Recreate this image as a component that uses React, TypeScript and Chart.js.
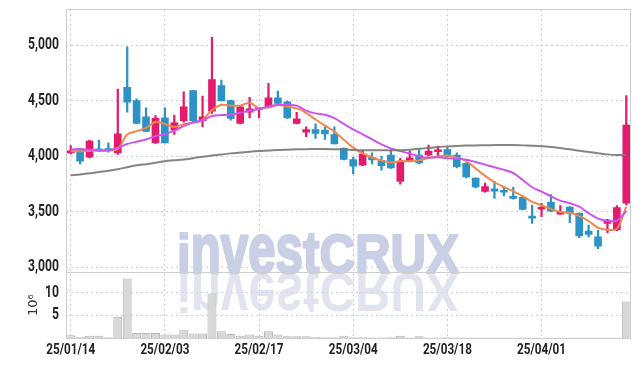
import React, { useEffect, useRef } from 'react';
import { Chart, registerables } from 'chart.js';
Chart.register(...registerables);

const dates = [
  '25/01/14','25/01/15','25/01/16','25/01/17','25/01/20','25/01/21','25/01/22','25/01/23','25/01/24','25/01/31',
  '25/02/03','25/02/04','25/02/05','25/02/06','25/02/07','25/02/10','25/02/11','25/02/12','25/02/13','25/02/14',
  '25/02/17','25/02/18','25/02/19','25/02/20','25/02/21','25/02/24','25/02/25','25/02/26','25/02/27','25/02/28',
  '25/03/04','25/03/05','25/03/06','25/03/07','25/03/10','25/03/11','25/03/12','25/03/13','25/03/14','25/03/17',
  '25/03/18','25/03/19','25/03/20','25/03/21','25/03/24','25/03/25','25/03/26','25/03/27','25/03/28','25/03/31',
  '25/04/01','25/04/02','25/04/03','25/04/04','25/04/07','25/04/08','25/04/09','25/04/10','25/04/11','25/04/14',
];

const opens = [
  4030, 4065, 3990, 4060, 4060, 4030, 4620, 4500, 4355, 4120,
  4345, 4235, 4320, 4590, 4320, 4405, 4635, 4500, 4295, 4395,
  4420, 4440, 4525, 4490, 4295, 4215, 4240, 4235, 4195, 4070,
  3970, 3918, 3990, 3960, 4010, 3773, 3955, 4010, 4010, 4040,
  4060, 4010, 3935, 3803, 3682, 3706, 3690, 3630, 3630, 3455,
  3522, 3585, 3478, 3542, 3485, 3325, 3273, 3395, 3335, 3576,
];
const highs = [
  4095, 4070, 4145, 4145, 4120, 4605, 4985, 4515, 4435, 4365,
  4435, 4370, 4580, 4590, 4540, 5070, 4685, 4505, 4450, 4530,
  4440, 4655, 4585, 4495, 4395, 4265, 4290, 4260, 4265, 4075,
  3990, 4055, 4030, 4000, 4055, 3980, 4045, 4060, 4100, 4090,
  4080, 4030, 3940, 3805, 3758, 3773, 3727, 3720, 3635, 3560,
  3575, 3655, 3555, 3545, 3490, 3380, 3333, 3430, 3555, 4545,
];
const lows = [
  4020, 3930, 3985, 4040, 4035, 4015, 4395, 4290, 4220, 4115,
  4120, 4195, 4305, 4310, 4265, 4385, 4495, 4325, 4290, 4345,
  4345, 4435, 4460, 4340, 4290, 4175, 4160, 4150, 4110, 3965,
  3840, 3915, 3930, 3873, 3890, 3748, 3955, 3930, 4000, 4000,
  3995, 3895, 3803, 3715, 3675, 3620, 3642, 3612, 3515, 3395,
  3455, 3500, 3475, 3400, 3265, 3273, 3167, 3312, 3330, 3560,
];
const closes = [
  4045, 3955, 4135, 4048, 4050, 4200, 4485, 4295, 4222, 4340,
  4120, 4300, 4445, 4320, 4355, 4690, 4500, 4340, 4445, 4425,
  4430, 4525, 4475, 4345, 4335, 4240, 4205, 4200, 4110, 3970,
  3910, 4018, 3965, 3915, 3895, 3955, 3985, 3940, 4045, 4055,
  4000, 3905, 3812, 3722, 3727, 3685, 3675, 3620, 3520, 3442,
  3528, 3505, 3492, 3485, 3282, 3295, 3190, 3424, 3536, 4280,
];
const ma5 = [
  4045, 4045, 4048, 4050, 4050, 4065, 4195, 4225, 4255, 4308,
  4290, 4262, 4288, 4302, 4325, 4415, 4462, 4455, 4455, 4480,
  4432, 4440, 4460, 4448, 4430, 4390, 4330, 4275, 4222, 4148,
  4077, 4025, 3990, 3960, 3945, 3955, 3955, 3962, 3985, 3998,
  4005, 3985, 3955, 3890, 3822, 3765, 3722, 3683, 3640, 3588,
  3558, 3524, 3498, 3491, 3462, 3416, 3355, 3338, 3345, 3545,
];
const ma10 = [
  4060, 4065, 4058, 4052, 4052, 4075, 4110, 4130, 4150, 4180,
  4197, 4230, 4270, 4305, 4322, 4362, 4370, 4372, 4392, 4408,
  4424, 4447, 4460, 4460, 4455, 4410, 4385, 4372, 4342, 4290,
  4240, 4197, 4152, 4106, 4070, 4045, 4024, 4000, 3985, 3990,
  3980, 3978, 3968, 3948, 3924, 3900, 3878, 3848, 3785, 3720,
  3680, 3638, 3600, 3576, 3545, 3487, 3438, 3418, 3420, 3505,
];
const maLong = [
  3827, 3835, 3845, 3858, 3868, 3882, 3900, 3918, 3928, 3940,
  3955, 3962, 3970, 3982, 3995, 4005, 4015, 4025, 4032, 4040,
  4046, 4050, 4055, 4058, 4061, 4063, 4064, 4064, 4062, 4060,
  4056, 4053, 4052, 4053, 4054, 4054, 4058, 4066, 4074, 4082,
  4088, 4092, 4095, 4097, 4098, 4100, 4101, 4100, 4097, 4094,
  4090, 4083, 4073, 4062, 4048, 4038, 4026, 4016, 4010, 4010,
];
const volumes = [
  0.6, 0.2, 0.5, 0.5, 0.15, 4.7, 13.2, 1.1, 1.1, 1.1,
  0.8, 0.8, 1.7, 1.0, 1.0, 9.9, 1.5, 0.9, 0.5, 0.8,
  0.5, 1.5, 0.8, 0.4, 0.4, 0.4, 0.2, 0.15, 0.15, 0.5,
  0.15, 0.15, 0.1, 0.1, 0.15, 0.5, 0.1, 0.4, 0.1, 0.1,
  0.15, 0.1, 0.1, 0.1, 0.1, 0.1, 0.1, 0.1, 0.1, 0.1,
  0.1, 0.1, 0.1, 0.1, 0.1, 0.1, 0.1, 0.1, 0.1, 8.1,
];
const priceTicks = [3000, 3500, 4000, 4500, 5000];
const volumeTicks = [5, 10];
const watermarkParts = ['i', 'nves', 't', 'CRUX'];
const watermarkStretch = [1, 1.26, 1.06, 1];

const UP = '#e31b6d';
const DOWN = '#2c93c6';
const GRID = '#c8cde0';
const LABEL_FONT = 'bold 16px Roboto, "DejaVu Sans", sans-serif';
const DATE_FONT = 'bold 15px Roboto, "DejaVu Sans", sans-serif';
const WM_FONT = 'bold 56px "Liberation Sans", Arial, sans-serif';

function drawNarrow(ctx: any, text: string, x: number, y: number, align: string, sx: number) {
  ctx.save();
  ctx.translate(x, y);
  ctx.scale(sx, 1);
  ctx.textAlign = align;
  ctx.textBaseline = 'middle';
  ctx.fillText(text, 0, 0);
  ctx.restore();
}

function drawWatermark(ctx: any, x0: number, base: number, flip: boolean) {
  const total = watermarkParts.reduce((s, t) => s + ctx.measureText(t).width, 0);
  const sx = 282 / total;
  let x = x0;
  watermarkParts.forEach((t, i) => {
    const sy = watermarkStretch[i];
    ctx.save();
    ctx.translate(x, base);
    ctx.scale(sx, flip ? -sy : sy);
    ctx.fillText(t, 0, 0);
    ctx.strokeText(t, 0, 0);
    ctx.restore();
    x += ctx.measureText(t).width * sx;
  });
}

const decorations = {
  id: 'decorations',
  beforeDatasetsDraw(chart: any) {
    const { ctx, chartArea } = chart;
    const base = chart.scales.y.bottom + 1;
    const x0 = chartArea.left + 111;
    ctx.save();
    ctx.font = WM_FONT;
    ctx.textAlign = 'left';
    ctx.textBaseline = 'alphabetic';
    ctx.lineJoin = 'round';
    ctx.lineWidth = 2.2;
    ctx.fillStyle = '#c9cfe5';
    ctx.strokeStyle = '#c9cfe5';
    drawWatermark(ctx, x0, base, false);
    ctx.beginPath();
    ctx.rect(chartArea.left, base + 1, chartArea.right - chartArea.left, 44);
    ctx.clip();
    ctx.fillStyle = 'rgba(215,219,234,0.75)';
    ctx.strokeStyle = 'rgba(215,219,234,0.75)';
    ctx.lineWidth = 0.01;
    drawWatermark(ctx, x0, base, true);
    ctx.restore();
  },
  afterDatasetsDraw(chart: any) {
    const { ctx, chartArea, scales } = chart;
    const sep = scales.y.bottom;
    ctx.save();
    ctx.strokeStyle = '#cfcfcf';
    ctx.lineWidth = 1;
    ctx.strokeRect(chartArea.left + 0.5, chartArea.top + 0.5, chartArea.right - chartArea.left - 1, chartArea.bottom - chartArea.top);
    ctx.beginPath();
    ctx.moveTo(chartArea.left, Math.round(sep) + 0.5);
    ctx.lineTo(chartArea.right, Math.round(sep) + 0.5);
    ctx.stroke();

    ctx.fillStyle = '#222';
    ctx.font = LABEL_FONT;
    const lx = chartArea.left - 7;
    priceTicks.forEach((v) => drawNarrow(ctx, v.toLocaleString('en-US'), lx, scales.y.getPixelForValue(v), 'right', 0.76));
    volumeTicks.forEach((v) => drawNarrow(ctx, String(v), lx, scales.yv.getPixelForValue(v), 'right', 0.76));
    ctx.font = DATE_FONT;
    dates.forEach((d, i) => {
      if (i % 10 === 0) drawNarrow(ctx, d, scales.x.getPixelForValue(i), chartArea.bottom + 12, 'center', 0.78);
    });
    ctx.restore();
  },
};

export default function App() {
  const ref = useRef<HTMLCanvasElement>(null);
  useEffect(() => {
    const bodyColors = opens.map((o, i) => (closes[i] >= o ? UP : DOWN));
    const chart = new Chart(ref.current!, {
      type: 'bar',
      data: {
        labels: dates,
        datasets: [
          { type: 'line', data: maLong, borderColor: 'rgba(120,120,120,0.9)', borderWidth: 2, pointRadius: 0, tension: 0.3, yAxisID: 'y', order: 0 } as any,
          { type: 'line', data: ma10, borderColor: '#cc55ee', borderWidth: 2, pointRadius: 0, tension: 0.3, yAxisID: 'y', order: 0 } as any,
          { type: 'line', data: ma5, borderColor: '#f0884e', borderWidth: 2, pointRadius: 0, tension: 0.3, yAxisID: 'y', order: 0 } as any,
          { type: 'bar', data: opens.map((o, i) => [o, closes[i]]), backgroundColor: bodyColors, borderWidth: 0, barThickness: 7, grouped: false, minBarLength: 2, yAxisID: 'y', order: 1 } as any,
          { type: 'bar', data: lows.map((l, i) => [l, highs[i]]), backgroundColor: bodyColors, borderWidth: 0, barThickness: 1.6, grouped: false, yAxisID: 'y', order: 2 } as any,
          { type: 'bar', data: volumes, backgroundColor: '#d8d8d8', borderColor: '#b4b4b4', borderWidth: 1, barPercentage: 0.95, categoryPercentage: 1, grouped: false, yAxisID: 'yv', order: 3 } as any,
        ],
      },
      options: {
        animation: false,
        responsive: true,
        maintainAspectRatio: false,
        devicePixelRatio: 1,
        layout: { padding: { top: 1, right: 0, left: 0, bottom: 0 } },
        plugins: { legend: { display: false }, tooltip: { enabled: false } },
        scales: {
          x: {
            type: 'category',
            offset: true,
            grid: { offset: false, color: GRID, drawTicks: false },
            border: { display: false, dash: [2, 3] },
            ticks: { display: false, autoSkip: false },
            afterBuildTicks: (s: any) => { s.ticks = s.ticks.filter((t: any) => t.value % 10 === 0); },
            afterFit: (s: any) => { s.height = 20; },
          },
          yv: {
            type: 'linear',
            position: 'left',
            stack: 'main',
            stackWeight: 1,
            min: 0,
            max: 14.6,
            grid: { color: GRID, drawTicks: false },
            border: { display: false, dash: [2, 3] },
            ticks: { display: false },
            title: { display: true, text: '10⁶', color: '#333', padding: { top: 18, bottom: 0 }, font: { family: '"DejaVu Sans", sans-serif', size: 13 } },
            afterBuildTicks: (s: any) => { s.ticks = volumeTicks.map((v) => ({ value: v })); },
            afterFit: (s: any) => { s.width = 58; },
          },
          y: {
            type: 'linear',
            position: 'left',
            stack: 'main',
            stackWeight: 4,
            min: 2955,
            max: 5325,
            grid: { color: GRID, drawTicks: false },
            border: { display: false, dash: [2, 3] },
            ticks: { display: false },
            afterBuildTicks: (s: any) => { s.ticks = priceTicks.map((v) => ({ value: v })); },
            afterFit: (s: any) => { s.width = 58; },
          },
        },
      } as any,
      plugins: [decorations],
    });
    return () => chart.destroy();
  }, []);
  return (
    <div style={{ width: 623, height: 350, position: 'relative' }}>
      <canvas ref={ref} />
    </div>
  );
}
